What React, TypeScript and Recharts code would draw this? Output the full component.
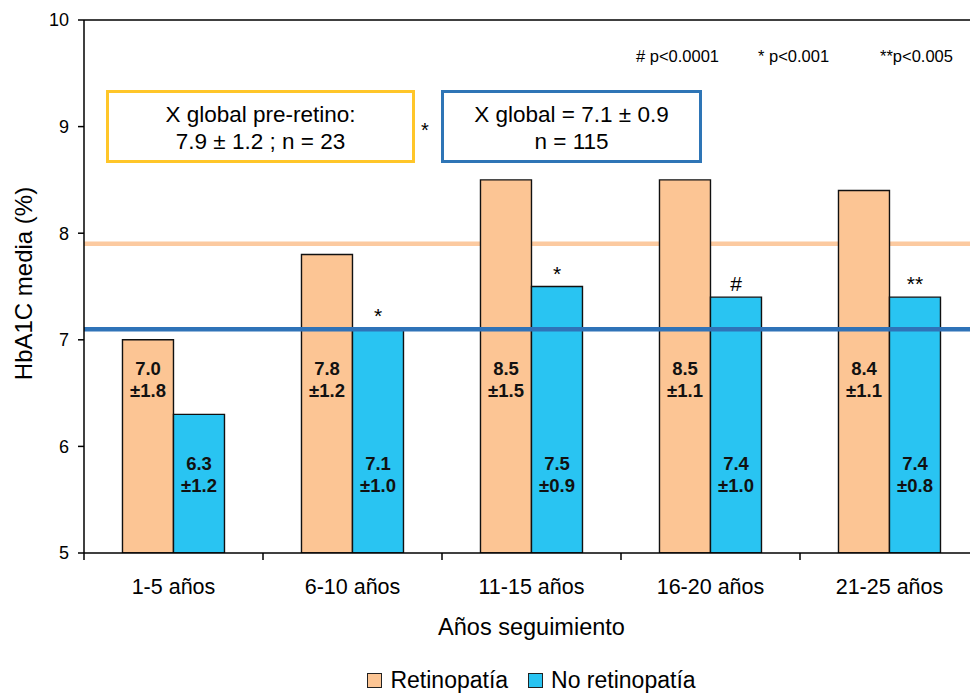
import React from 'react';
import { BarChart, Bar, XAxis, YAxis, ReferenceLine, LabelList, Legend } from 'recharts';

// HbA1c by years of follow-up, with and without retinopathy
const categories = ['1-5 años', '6-10 años', '11-15 años', '16-20 años', '21-25 años'];
const retinopatia = [7.0, 7.8, 8.5, 8.5, 8.4];
const retinopatiaSd = [1.8, 1.2, 1.5, 1.1, 1.1];
const noRetinopatia = [6.3, 7.1, 7.5, 7.4, 7.4];
const noRetinopatiaSd = [1.2, 1.0, 0.9, 1.0, 0.8];
const significance = ['', '*', '*', '#', '**'];
const yTicks = [5, 6, 7, 8, 9, 10];
const seriesNames = ['Retinopatía', 'No retinopatía'];

const globalPreRetino = { mean: 7.9, sd: 1.2, n: 23 };
const globalTotal = { mean: 7.1, sd: 0.9, n: 115 };
const pValueNotes = ['# p<0.0001', '* p<0.001', '**p<0.005'];

const Y_MIN = yTicks[0];
const Y_MAX = yTicks[yTicks.length - 1];

const ORANGE = '#FCC594';
const ORANGE_LINE = '#FCCAA0';
const BLUE = '#29C4F2';
const BLUE_LINE = '#2F73B8';
const YELLOW_BOX = '#FFC629';
const FONT = '"Liberation Sans", Arial, Helvetica, sans-serif';

const data = categories.map((cat, i) => ({
  cat,
  ret: retinopatia[i],
  retSd: retinopatiaSd[i],
  noret: noRetinopatia[i],
  noretSd: noRetinopatiaSd[i],
  sig: significance[i],
}));

// In-bar "mean / ±sd" labels, anchored at a fixed HbA1c level inside each bar
const makeValueLabel = (anchorValue: number) => (props: any) => {
  const { x, y, width, height, value } = props;
  if (value == null) return null;
  const [meanText, sdText] = String(value).split('|');
  const mean = parseFloat(meanText);
  const pxPerUnit = height / (mean - Y_MIN);
  const bottom = y + height;
  const ly = bottom - (anchorValue - Y_MIN) * pxPerUnit;
  const cx = x + width / 2;
  return (
    <text textAnchor="middle" fontWeight="bold" fontSize={18.5} fill="#111" fontFamily={FONT}>
      <tspan x={cx} y={ly}>{meanText}</tspan>
      <tspan x={cx} y={ly + 22}>{sdText}</tspan>
    </text>
  );
};

const XTick = (props: any) => {
  const { x, y, payload } = props;
  const half = payload && typeof payload.offset === 'number' ? payload.offset : 0;
  const axisY = y - 26;
  return (
    <g>
      <line x1={x - half} x2={x - half} y1={axisY} y2={axisY + 7} stroke="#000" strokeWidth={1.5} />
      <text x={x} y={y} dy="0.71em" textAnchor="middle" fontSize={21.5} fill="#000" fontFamily={FONT}>
        {payload.value}
      </text>
    </g>
  );
};

const XTitle = (props: any) => {
  const vb = props.viewBox || props;
  return (
    <text x={vb.x + vb.width / 2} y={vb.y + 82} textAnchor="middle" fontSize={23.5} fill="#000" fontFamily={FONT}>
      Años seguimiento
    </text>
  );
};

const YTitle = (props: any) => {
  const vb = props.viewBox || props;
  const tx = vb.x + 32;
  const ty = vb.y + vb.height / 2 - 3;
  return (
    <text x={tx} y={ty} textAnchor="middle" fontSize={24} fill="#000" fontFamily={FONT} transform={`rotate(-90, ${tx}, ${ty})`}>
      HbA1C media (%)
    </text>
  );
};

const LegendContent = (props: any) => {
  const items = [...(props.payload || [])].sort(
    (a: any, b: any) => seriesNames.indexOf(a.value) - seriesNames.indexOf(b.value)
  );
  return (
    <div
      style={{
        display: 'flex',
        justifyContent: 'center',
        alignItems: 'center',
        height: 40,
        boxSizing: 'border-box',
        paddingTop: 14,
        fontFamily: FONT,
        fontSize: 23,
        color: '#000',
      }}
    >
      {items.map((it: any, i: number) => (
        <div key={i} style={{ display: 'flex', alignItems: 'center', marginLeft: i === 0 ? 0 : 20 }}>
          <span
            style={{
              display: 'inline-block',
              width: 13,
              height: 13,
              background: it.color,
              border: '1px solid #222',
              marginRight: 8,
            }}
          />
          <span>{it.value}</span>
        </div>
      ))}
    </div>
  );
};

export default function App() {
  return (
    <div
      style={{
        position: 'absolute',
        left: 0,
        top: 0,
        width: 970,
        height: 693,
        overflow: 'hidden',
        background: '#fff',
        fontFamily: FONT,
      }}
    >
      <BarChart
        width={980}
        height={693}
        data={data}
        margin={{ top: 20, right: 1, bottom: 0, left: 0 }}
        barCategoryGap="21.5%"
        barGap={0}
      >
        <XAxis
          dataKey="cat"
          height={100}
          interval={0}
          tickLine={false}
          tickSize={6}
          tickMargin={20}
          axisLine={{ stroke: '#000', strokeWidth: 1.5 }}
          tick={<XTick />}
          label={XTitle}
        />
        <YAxis
          width={84}
          domain={[Y_MIN, Y_MAX]}
          ticks={yTicks}
          allowDataOverflow
          tickSize={6}
          tickMargin={9}
          axisLine={{ stroke: '#000', strokeWidth: 1.5 }}
          tickLine={{ stroke: '#000', strokeWidth: 1.5 }}
          tick={{ fontSize: 18, fill: '#000', fontFamily: FONT }}
          label={YTitle}
        />
        <ReferenceLine y={Y_MAX} stroke="#000" strokeWidth={1.5} />
        <ReferenceLine y={globalPreRetino.mean} stroke={ORANGE_LINE} strokeWidth={4.5} zIndex={250} />
        <Bar
          dataKey="ret"
          name={seriesNames[0]}
          fill={ORANGE}
          stroke="#111"
          strokeWidth={1.4}
          isAnimationActive={false}
          zIndex={300}
        >
          <LabelList
            dataKey={(d: any) => `${d.ret.toFixed(1)}|±${d.retSd.toFixed(1)}`}
            content={makeValueLabel(6.67)}
          />
        </Bar>
        <Bar
          dataKey="noret"
          name={seriesNames[1]}
          fill={BLUE}
          stroke="#111"
          strokeWidth={1.4}
          isAnimationActive={false}
          zIndex={300}
        >
          <LabelList
            dataKey={(d: any) => `${d.noret.toFixed(1)}|±${d.noretSd.toFixed(1)}`}
            content={makeValueLabel(5.78)}
          />
          <LabelList
            dataKey="sig"
            position="top"
            offset={6}
            fontSize={21}
            fill="#000"
            fontFamily={FONT}
          />
        </Bar>
        <ReferenceLine y={globalTotal.mean} stroke={BLUE_LINE} strokeWidth={4.5} zIndex={450} />
        <Legend
          verticalAlign="bottom"
          align="center"
          itemSorter={null as any}
          wrapperStyle={{ left: 84, width: 895, height: 40, bottom: 0 }}
          content={LegendContent}
        />
      </BarChart>

      <svg
        width={970}
        height={693}
        style={{ position: 'absolute', left: 0, top: 0, pointerEvents: 'none', fontFamily: FONT }}
      >
        <rect x={107.5} y={91.5} width={306} height={70} fill="#fff" stroke={YELLOW_BOX} strokeWidth={3} />
        <text x={260.5} y={122} textAnchor="middle" fontSize={22.5} fill="#000">
          X global pre-retino:
        </text>
        <text x={260.5} y={149} textAnchor="middle" fontSize={22.5} fill="#000">
          {`${globalPreRetino.mean.toFixed(1)} ± ${globalPreRetino.sd.toFixed(1)} ; n = ${globalPreRetino.n}`}
        </text>
        <text x={425} y={137} textAnchor="middle" fontSize={20} fill="#000">
          *
        </text>
        <rect x={442.5} y={91.5} width={258} height={70} fill="#fff" stroke="#2E75B6" strokeWidth={3} />
        <text x={571.5} y={122} textAnchor="middle" fontSize={22.5} fill="#000">
          {`X global = ${globalTotal.mean.toFixed(1)} ± ${globalTotal.sd.toFixed(1)}`}
        </text>
        <text x={571.5} y={149} textAnchor="middle" fontSize={22.5} fill="#000">
          {`n = ${globalTotal.n}`}
        </text>
        {pValueNotes.map((t, i) => (
          <text key={t} x={[636, 758, 880][i]} y={62} fontSize={16.5} fill="#000">
            {t}
          </text>
        ))}
      </svg>
    </div>
  );
}
